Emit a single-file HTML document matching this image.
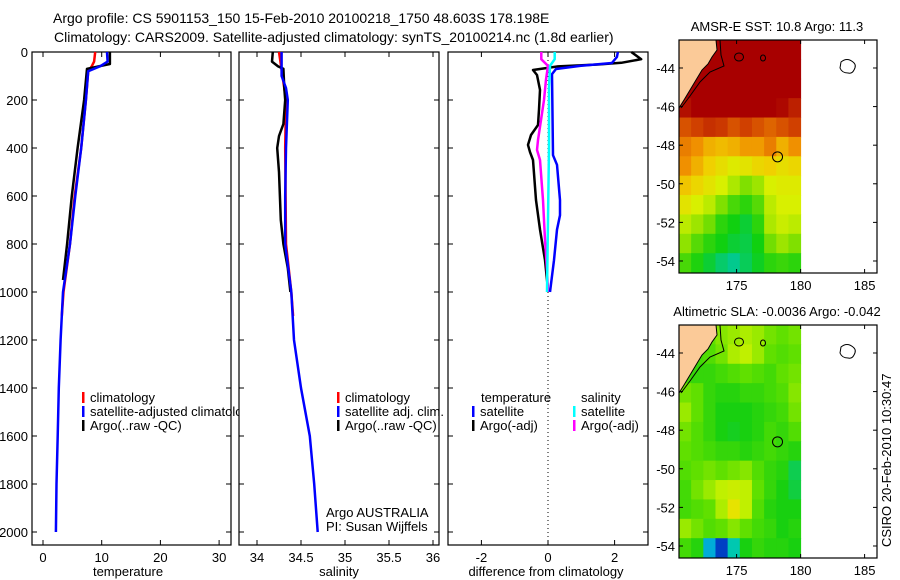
<!DOCTYPE html>
<html><head><meta charset="utf-8"><style>
body{margin:0;background:#fff;}
svg{display:block;font-family:"Liberation Sans",sans-serif;}
text{font-size:13px;fill:#000;}
</style></head><body>
<svg id="fig" width="900" height="580" viewBox="0 0 900 580" xmlns="http://www.w3.org/2000/svg">
<defs><clipPath id="c1"><rect x="0" y="0" width="239" height="580"/></clipPath></defs>
<rect width="900" height="580" fill="#fff"/>
<text x="53" y="23" style="font-size:14px">Argo profile: CS 5901153_150 15-Feb-2010 20100218_1750 48.603S 178.198E</text>
<text x="54" y="42" style="font-size:14px">Climatology: CARS2009. Satellite-adjusted climatology: synTS_20100214.nc (1.8d earlier)</text>
<g id="g1"></g>
<g id="g2"></g>
<g id="g3"></g>
<g id="m1"></g>
<g id="m2"></g>
<text transform="translate(891,547) rotate(-90)">CSIRO 20-Feb-2010 10:30:47</text>
</svg>
<script>
// ---- profile data ----
const tClimDepth=[0,40,60,80,200,400,600,800,1000,1100];
const tClimVal=[8.9,8.7,8.3,7.7,7.3,6.5,5.4,4.6,3.5,3.2];
const tSatDepth=[0,40,60,80,200,400,600,800,1000,1200,1400,1600,1800,2000];
const tSatVal=[10.9,11.0,9.7,7.7,7.3,6.5,5.5,4.6,3.4,3.0,2.7,2.5,2.3,2.2];
const tArgoDepth=[0,50,70,200,400,600,800,950];
const tArgoVal=[11.4,11.4,7.5,7.0,5.9,4.9,4.1,3.4];
const sClimDepth=[0,100,200,400,800,1000,1100];
const sClimVal=[34.25,34.29,34.33,34.32,34.33,34.39,34.41];
const sSatDepth=[0,100,150,200,400,600,800,1000,1200,1400,1600,1800,2000];
const sSatVal=[34.28,34.28,34.33,34.35,34.33,34.32,34.32,34.39,34.42,34.5,34.6,34.65,34.69];
const sArgoDepth=[0,40,60,70,150,200,300,350,400,500,700,800,900,1000];
const sArgoVal=[34.18,34.17,34.24,34.3,34.31,34.32,34.3,34.25,34.23,34.25,34.27,34.3,34.35,34.38];
const dTSatDepth=[0,21,46,58,71,92,430,470,617,680,740,867,1000];
const dTSatVal=[2.1,2.07,1.92,0.96,0.24,0.12,0.15,0.27,0.36,0.36,0.27,0.18,0.06];
const dTArgoDepth=[0,30,45,52,60,75,96,158,240,304,346,387,417,450,617,740,867,990];
const dTArgoVal=[2.5,2.8,2.2,1.5,0.3,-0.45,-0.33,-0.24,-0.27,-0.3,-0.51,-0.6,-0.54,-0.45,-0.36,-0.24,-0.09,0.0];
const dSSatDepth=[0,30,58,150,400,700,1000];
const dSSatVal=[0.2,0.2,0.06,0.03,0.03,0.0,-0.03];
const dSArgoDepth=[0,30,58,115,200,367,408,450,617,783,908,1000];
const dSArgoVal=[-0.2,-0.2,0.0,-0.06,-0.12,-0.3,-0.33,-0.24,-0.15,-0.09,-0.03,0.0];
const depthTicks=[0,200,400,600,800,1000,1200,1400,1600,1800,2000];
const tTicks=[0,10,20,30];
const sTicks=[34,34.5,35,35.5,36];
const dTicks=[-2,0,2];
// ---- map data ----
const sst=[
[13.5,13.5,13.5,13.5,13.5,13.5,13.5,13.5,13.5,13.5],
[13.5,13.5,13.5,13.5,13.5,13.5,13.5,13.5,13.5,13.5],
[13.4,13.5,13.5,13.5,13.5,13.5,13.5,13.5,13.4,13.4],
[12.8,13.0,13.2,13.3,13.2,13.3,13.2,13.1,12.9,12.6],
[12.0,12.2,12.4,12.3,12.0,12.2,12.0,11.8,12.0,12.2],
[11.5,11.3,11.0,10.9,11.0,11.2,11.2,11.5,11.0,11.3],
[11.3,11.0,10.7,10.5,10.3,10.4,10.6,10.7,10.5,10.6],
[10.8,10.6,10.4,10.2,9.9,9.6,9.8,10.2,10.3,10.3],
[10.4,10.2,10.0,9.6,9.2,9.0,9.3,10.0,10.2,10.2],
[10.0,9.8,9.5,9.0,8.8,8.6,9.0,9.9,10.1,10.0],
[9.7,9.3,9.0,8.8,8.6,8.5,8.8,9.5,9.8,9.6],
[9.2,8.9,8.6,8.3,8.1,8.4,8.7,9.0,9.1,9.0]];
const sla=[
[.04,.03,.05,.07,.08,.09,.08,.06,.05,.06],
[.02,.03,.04,.06,.09,.10,.08,.05,.04,.05],
[.03,.02,.02,.03,.04,.05,.04,.03,.05,.06],
[.06,.05,.02,.01,.01,.02,.02,.03,.04,.07],
[.08,.05,.02,.00,.00,.00,.01,.02,.03,.06],
[.06,.04,.02,.00,-.01,.00,.01,.03,.02,.04],
[.05,.04,.03,.02,.02,.01,.02,.03,.02,.01],
[.04,.05,.06,.05,.06,.07,.04,.02,.01,-.04],
[.03,.06,.08,.10,.11,.10,.05,.02,.00,-.03],
[.03,.04,.05,.09,.14,.10,.04,.01,.00,.00],
[.08,.06,.04,.05,.07,.05,.03,.02,.00,.01],
[.03,.01,-.15,-.25,-.10,.00,.02,.01,.01,.00]];
const lonTicks=[175,180,185];
const latTicks=[-44,-46,-48,-50,-52,-54];
const argoLon=178.198, argoLat=-48.603;

const NS='http://www.w3.org/2000/svg';
function mk(p,tag,at){const e=document.createElementNS(NS,tag);for(const k in at)e.setAttribute(k,at[k]);p.appendChild(e);return e;}
const yD=d=>52+d*0.24;
function frame(g,x0,x1,xs,ticks,fmt,showY,label,lx){
  const r=mk(g,'rect',{x:x0,y:52,width:x1-x0,height:493,fill:'none',stroke:'#000','stroke-width':1.2});
  
  
  ticks.forEach(v=>{const x=xs(v);
    mk(g,'line',{x1:x,x2:x,y1:545,y2:540,stroke:'#000'});mk(g,'line',{x1:x,x2:x,y1:52,y2:57,stroke:'#000'});
    const t=mk(g,'text',{x:x,y:562,'text-anchor':'middle'});t.textContent=fmt(v);
    
    });
  depthTicks.forEach(d=>{const y=yD(d);
    mk(g,'line',{x1:x0,x2:x0+5,y1:y,y2:y,stroke:'#000'});mk(g,'line',{x1:x1,x2:x1-5,y1:y,y2:y,stroke:'#000'});
    if(showY){const t=mk(g,'text',{x:x0-4,y:y+5,'text-anchor':'end'});t.textContent=d;
      
      }});
  const a=mk(g,'text',{x:lx,y:576,'text-anchor':'middle'});a.textContent=label;
  
  
}
function line(g,xs,ds,vs,col,name){
  const pts=ds.map((d,i)=>xs(vs[i]).toFixed(1)+','+yD(d).toFixed(1)).join(' ');
  const p=mk(g,'polyline',{points:pts,fill:'none',stroke:col,'stroke-width':2.5,'stroke-linejoin':'round'});
  
  
}
function legend(g,x,y,col,txt){
  mk(g,'rect',{x:x,y:y-10,width:2.5,height:11,fill:col});
  const t=mk(g,'text',{x:x+8,y:y});t.textContent=txt;
  
  
}
// panel 1
const g1=document.getElementById('g1');const xT=v=>43+v*5.87;
g1.setAttribute('clip-path','url(#c1)');
frame(g1,32,231,xT,tTicks,v=>v,true,'temperature',128);
line(g1,xT,tClimDepth,tClimVal,'#f00','temp-climatology-line');
line(g1,xT,tArgoDepth,tArgoVal,'#000','temp-argo-line');
line(g1,xT,tSatDepth,tSatVal,'#00f','temp-satellite-line');
legend(g1,82,402,'#f00','climatology');legend(g1,82,416,'#00f','satellite-adjusted climatology');legend(g1,82,430,'#000','Argo(..raw -QC)');
// panel 2
const g2=document.getElementById('g2');const xS=v=>257+(v-34)*88;
frame(g2,239,439,xS,sTicks,v=>v,false,'salinity',339);
line(g2,xS,sClimDepth,sClimVal,'#f00','sal-climatology-line');
line(g2,xS,sArgoDepth,sArgoVal,'#000','sal-argo-line');
line(g2,xS,sSatDepth,sSatVal,'#00f','sal-satellite-line');
legend(g2,337,402,'#f00','climatology');legend(g2,337,416,'#00f','satellite adj. clim.');legend(g2,337,430,'#000','Argo(..raw -QC)');
let t=mk(g2,'text',{x:326,y:517});t.textContent='Argo AUSTRALIA';


t=mk(g2,'text',{x:326,y:531});t.textContent='PI: Susan Wijffels';


// panel 3
const g3=document.getElementById('g3');const xD=v=>548+v*33.3;
frame(g3,448,648,xD,dTicks,v=>v,false,'difference from climatology',546);
mk(g3,'line',{x1:xD(0),x2:xD(0),y1:52,y2:545,stroke:'#000','stroke-dasharray':'1,3'});
line(g3,xD,dTArgoDepth,dTArgoVal,'#000','diff-temp-argo-line');
line(g3,xD,dSArgoDepth,dSArgoVal,'#f0f','diff-sal-argo-line');
line(g3,xD,dTSatDepth,dTSatVal,'#00f','diff-temp-satellite-line');
line(g3,xD,dSSatDepth,dSSatVal,'#0ff','diff-sal-satellite-line');
t=mk(g3,'text',{x:481,y:402});t.textContent='temperature';


t=mk(g3,'text',{x:581,y:402});t.textContent='salinity';


legend(g3,472,416,'#00f','satellite');legend(g3,472,430,'#000','Argo(-adj)');
legend(g3,573,416,'#0ff','satellite');legend(g3,573,430,'#f0f','Argo(-adj)');
// ---- maps ----
function lerpCol(stops,v){
  if(v<=stops[0][0])return 'rgb('+stops[0][1].join(',')+')';
  for(let i=1;i<stops.length;i++){if(v<=stops[i][0]){const a=stops[i-1],b=stops[i],f=(v-a[0])/(b[0]-a[0]);
    return 'rgb('+[0,1,2].map(k=>Math.round(a[1][k]+(b[1][k]-a[1][k])*f)).join(',')+')';}}
  const l=stops[stops.length-1][1];return 'rgb('+l.join(',')+')';}
const sstStops=[[8.0,[0,200,160]],[8.8,[16,208,16]],[9.6,[128,224,0]],[10.2,[216,240,0]],[10.7,[240,208,0]],[11.3,[240,144,0]],[12.2,[208,64,0]],[13.0,[168,0,0]]];
const slaStops=[[-0.28,[0,16,160]],[-0.2,[0,144,255]],[-0.1,[0,200,176]],[0.0,[24,208,16]],[0.05,[96,224,0]],[0.1,[192,240,0]],[0.15,[240,224,0]]];
function map(g,top,grid,stops,title){
  const L=679,R=877,B=top+233,lonX=lo=>L+(lo-170.5)*12.8,latY=la=>top+(-42.55-la)*19.3;
  const tt=mk(g,'text',{x:777,y:top-9,'text-anchor':'middle'});tt.textContent=title;
  
  
  const cw=0.95,rh=(54.6-42.55)/12;
  grid.forEach((row,i)=>row.forEach((v,j)=>{
    const lo0=170.5+j*cw,lo1=Math.min(180,lo0+cw),la0=-42.55-i*rh;
    const c=mk(g,'rect',{x:lonX(lo0),y:latY(la0),width:lonX(lo1)-lonX(lo0)+0.5,height:rh*19.3+0.5,fill:lerpCol(stops,v)});
    
    }));
  const o=top-40;
  const land=mk(g,'polygon',{points:`679,${40+o} 716,${40+o} 717,${50+o} 712,${57+o} 708,${64+o} 702,${70+o} 696,${80+o} 690,${90+o} 684,${100+o} 679,${108+o}`,fill:'#fbca98',stroke:'#000','stroke-width':1});
  
  
  mk(g,'polyline',{points:`720,${40+o} 721,${55+o} 724,${66+o} 710,${72+o} 700,${82+o} 690,${96+o} 681,${108+o}`,fill:'none',stroke:'#000','stroke-width':1});
  mk(g,'ellipse',{cx:739,cy:57+o,rx:4.5,ry:4,fill:'none',stroke:'#000'});
  mk(g,'ellipse',{cx:763,cy:58+o,rx:2.5,ry:3,fill:'none',stroke:'#000'});
  mk(g,'path',{d:`M841,${62+o} q6,-5 12,0 q4,3 1,8 q-2,4 -6,3 q-6,0 -8,-5 z`,fill:'none',stroke:'#000'});
  const ac=mk(g,'circle',{cx:lonX(argoLon),cy:latY(argoLat),r:5,fill:'none',stroke:'#000'});
  
  
  mk(g,'rect',{x:L,y:top,width:R-L,height:233,fill:'none',stroke:'#000','stroke-width':1.2});
  lonTicks.forEach(lo=>{const x=lonX(lo);mk(g,'line',{x1:x,x2:x,y1:top,y2:top+4,stroke:'#000'});mk(g,'line',{x1:x,x2:x,y1:B,y2:B-4,stroke:'#000'});
    const l=mk(g,'text',{x:x,y:B+17,'text-anchor':'middle'});l.textContent=lo;
    
    });
  latTicks.forEach(la=>{const y=latY(la);mk(g,'line',{x1:L,x2:L+4,y1:y,y2:y,stroke:'#000'});mk(g,'line',{x1:R,x2:R-4,y1:y,y2:y,stroke:'#000'});
    const l=mk(g,'text',{x:L-4,y:y+5,'text-anchor':'end'});l.textContent=la;
    
    });
}
map(document.getElementById('m1'),40,sst,sstStops,'AMSR-E SST: 10.8  Argo: 11.3');
map(document.getElementById('m2'),325,sla,slaStops,'Altimetric SLA: -0.0036  Argo: -0.042');
</script>
</body></html>
